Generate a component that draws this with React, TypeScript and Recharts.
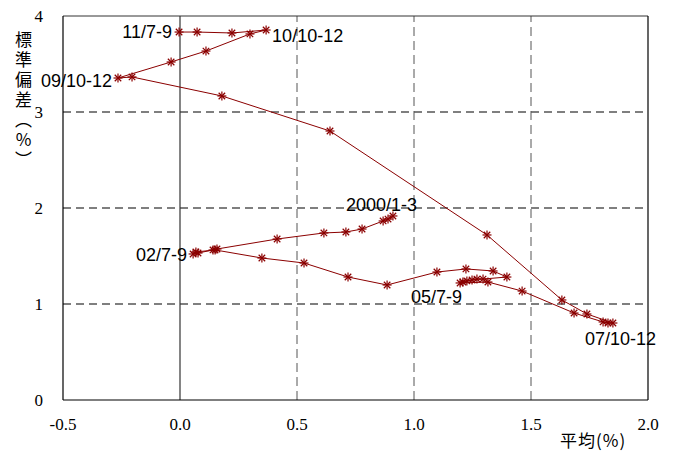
import { ScatterChart, Scatter, XAxis, YAxis, ReferenceLine } from 'recharts'

// quarterly mean return (%) and its standard deviation (%), 2000/1-3 .. 11/7-9
const means = [
  0.91, 0.889, 0.868, 0.778, 0.709, 0.615, 0.415, 0.158, 0.141, 0.077,
  0.056, 0.068, 0.15, 0.35, 0.53, 0.718, 0.885, 1.098, 1.222, 1.338,
  1.397, 1.295, 1.269, 1.248, 1.226, 1.209, 1.197, 1.316, 1.462, 1.684,
  1.808, 1.829, 1.85, 1.739, 1.632, 1.312, 0.641, 0.179, -0.205, -0.265,
  -0.038, 0.111, 0.299, 0.368, 0.222, 0.073, -0.004,
]
const stdevs = [
  1.917, 1.885, 1.865, 1.781, 1.75, 1.74, 1.677, 1.573, 1.563, 1.531,
  1.521, 1.542, 1.563, 1.479, 1.427, 1.281, 1.198, 1.333, 1.365, 1.344,
  1.281, 1.26, 1.26, 1.25, 1.24, 1.229, 1.219, 1.229, 1.135, 0.906,
  0.813, 0.802, 0.802, 0.896, 1.042, 1.719, 2.802, 3.167, 3.365, 3.354,
  3.521, 3.635, 3.813, 3.854, 3.823, 3.833, 3.833,
]
const tagIndex = [0, 10, 22, 31, 39, 43, 46]
const tagText = ['2000/1-3', '02/7-9', '05/7-9', '07/10-12', '09/10-12', '10/10-12', '11/7-9']

const xTicks = [-0.5, 0, 0.5, 1, 1.5, 2]
const yTicks = [0, 1, 2, 3, 4]

// where each period label sits relative to its marker
const tagPos: Record<string, { dx: number; dy: number; anchor: 'start' | 'end' }> = {
  '2000/1-3': { dx: 24, dy: -5, anchor: 'end' },
  '02/7-9': { dx: -6, dy: 7, anchor: 'end' },
  '05/7-9': { dx: -15, dy: 24, anchor: 'end' },
  '07/10-12': { dx: -23, dy: 22, anchor: 'start' },
  '09/10-12': { dx: -6, dy: 9, anchor: 'end' },
  '10/10-12': { dx: 6, dy: 12, anchor: 'start' },
  '11/7-9': { dx: -7, dy: 6, anchor: 'end' },
}

const data = means.map((m, i) => {
  const k = tagIndex.indexOf(i)
  return { x: m, y: stdevs[i], tag: k >= 0 ? tagText[k] : '' }
})

const RED = '#8b0000'
const SERIF = '"Liberation Serif", "Times New Roman", Times, serif'
const SANS = '"Liberation Sans", Arial, sans-serif'
const CJK = '"Noto Sans CJK JP", "Noto Sans CJK SC", sans-serif'

// eslint-disable-next-line @typescript-eslint/no-explicit-any
function Asterisk(props: any) {
  const { cx, cy, payload } = props
  const r = 4.5
  const d = r * 0.72
  const pos = payload?.tag ? tagPos[payload.tag] : null
  return (
    <g>
      <g stroke={RED} strokeWidth={1.2}>
        <line x1={cx - r} y1={cy} x2={cx + r} y2={cy} />
        <line x1={cx} y1={cy - r} x2={cx} y2={cy + r} />
        <line x1={cx - d} y1={cy - d} x2={cx + d} y2={cy + d} />
        <line x1={cx - d} y1={cy + d} x2={cx + d} y2={cy - d} />
      </g>
      {pos && (
        <text
          x={cx + pos.dx}
          y={cy + pos.dy}
          textAnchor={pos.anchor}
          style={{ fontFamily: SANS, fontSize: 18 }}
          fill="#000"
        >
          {payload.tag}
        </text>
      )}
    </g>
  )
}

// eslint-disable-next-line @typescript-eslint/no-explicit-any
function XTick(props: any) {
  const { x, y, payload } = props
  return (
    <text x={x} y={y + 22} textAnchor="middle" style={{ fontFamily: SERIF, fontSize: 17 }} fill="#000">
      {Number(payload.value).toFixed(1)}
    </text>
  )
}

// eslint-disable-next-line @typescript-eslint/no-explicit-any
function YTick(props: any) {
  const { x, y, payload } = props
  return (
    <text x={x - 6} y={y + 6} textAnchor="end" style={{ fontFamily: SERIF, fontSize: 17 }} fill="#000">
      {payload.value}
    </text>
  )
}

export default function App() {
  return (
    <div
      style={{
        position: 'fixed',
        left: 0,
        top: 0,
        width: 673,
        height: 453,
        background: '#fff',
        overflow: 'hidden',
      }}
    >
      <ScatterChart width={673} height={453} margin={{ top: 16, right: 25, bottom: 0, left: 0 }}>
        <XAxis
          type="number"
          dataKey="x"
          domain={[-0.5, 2]}
          ticks={xTicks}
          tickLine={false}
          height={53}
          axisLine={{ stroke: '#000', strokeWidth: 1.2 }}
          tick={XTick}
        />
        <YAxis
          type="number"
          dataKey="y"
          domain={[0, 4]}
          ticks={yTicks}
          tickLine={false}
          tickMargin={8}
          width={63}
          axisLine={{ stroke: '#000', strokeWidth: 1.2 }}
          tick={YTick}
        />
        {[1, 2, 3].map((v) => (
          <ReferenceLine key={'h' + v} y={v} stroke="#000" strokeWidth={1.2} strokeDasharray="8 5" />
        ))}
        {[0.5, 1, 1.5].map((v) => (
          <ReferenceLine key={'v' + v} x={v} stroke="#555" strokeDasharray="9 5" />
        ))}
        <ReferenceLine x={0} stroke="#333" strokeWidth={1.2} />
        <ReferenceLine y={4} stroke="#333" />
        <ReferenceLine x={2} stroke="#000" strokeWidth={1.2} />
        <Scatter
          data={data}
          line={{ stroke: RED, strokeWidth: 1 }}
          shape={Asterisk}
          isAnimationActive={false}
        />
      </ScatterChart>
      <div
        style={{
          position: 'absolute',
          left: 13,
          top: 31,
          writingMode: 'vertical-rl',
          textOrientation: 'upright',
          letterSpacing: 3,
          fontFamily: CJK,
          fontSize: 17,
          lineHeight: '20px',
          color: '#000',
          whiteSpace: 'nowrap',
        }}
      >
        標準偏差（%）
      </div>
      <div
        style={{
          position: 'absolute',
          left: 560,
          top: 430,
          fontFamily: CJK,
          fontSize: 17,
          lineHeight: '20px',
          letterSpacing: 1,
          color: '#000',
          whiteSpace: 'nowrap',
        }}
      >
        平均(%)
      </div>
    </div>
  )
}
